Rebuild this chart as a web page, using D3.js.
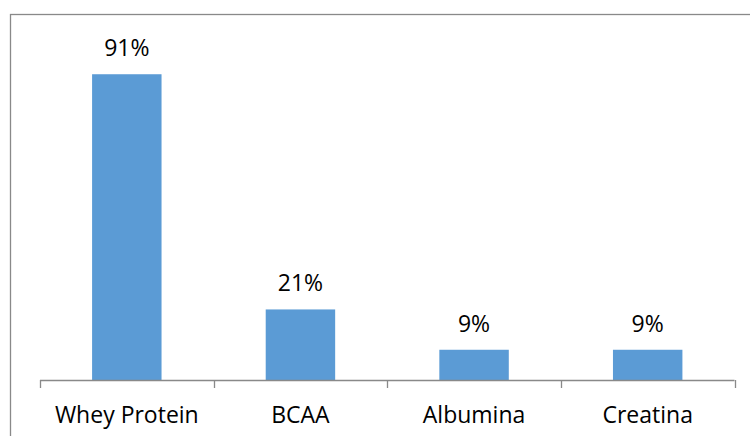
<!DOCTYPE html>
<html>
<head>
<meta charset="utf-8">
<script src="https://cdn.jsdelivr.net/npm/d3@7"></script>
<style>
  html, body { margin: 0; padding: 0; background: #fff; }
  svg { display: block; }
  text { font-family: "Open Sans", sans-serif; fill: #000; }
</style>
</head>
<body>
<svg id="chart" width="750" height="436"></svg>
<script>
// Share of each supplement
const categories = ["Whey Protein", "BCAA", "Albumina", "Creatina"];
const values = [0.91, 0.21, 0.09, 0.09];
const valueLabels = ["91%", "21%", "9%", "9%"];

const svg = d3.select("#chart");
const W = 750, H = 436;

// Chart frame (extends past the right and bottom edges)
svg.append("rect")
  .attr("x", 10.5).attr("y", 14.5)
  .attr("width", W).attr("height", H)
  .attr("fill", "none")
  .attr("stroke", "#898989")
  .attr("stroke-width", 1.3);

const x = d3.scaleBand()
  .domain(categories)
  .range([40, 734.5])
  .paddingInner(0.6)
  .paddingOuter(0.3);

const y = d3.scaleLinear()
  .domain([0, 1])
  .range([380, 44]);

// Bars
svg.append("g")
  .selectAll("rect")
  .data(categories)
  .join("rect")
  .attr("x", d => x(d))
  .attr("y", (d, i) => y(values[i]))
  .attr("width", x.bandwidth())
  .attr("height", (d, i) => y(0) - y(values[i]))
  .attr("fill", "#5B9BD5");

// Value labels
svg.append("g")
  .selectAll("text")
  .data(categories)
  .join("text")
  .attr("x", d => x(d) + x.bandwidth() / 2)
  .attr("y", (d, i) => y(values[i]) - 18)
  .attr("text-anchor", "middle")
  .attr("font-size", 23)
  .text((d, i) => valueLabels[i]);

// Category axis with ticks between categories
const step = x.step();
const edges = d3.range(categories.length + 1).map(i => 40 + i * (694.5 / categories.length));
const axis = svg.append("g").attr("stroke", "#898989").attr("stroke-width", 1.3);
axis.append("line")
  .attr("x1", 40).attr("x2", 734.5)
  .attr("y1", y(0) + 0.5).attr("y2", y(0) + 0.5);
axis.selectAll("line.tick")
  .data(edges)
  .join("line")
  .attr("class", "tick")
  .attr("x1", d => Math.round(d) + 0.5).attr("x2", d => Math.round(d) + 0.5)
  .attr("y1", y(0)).attr("y2", y(0) + 8);

svg.append("g")
  .selectAll("text")
  .data(categories)
  .join("text")
  .attr("x", d => x(d) + x.bandwidth() / 2)
  .attr("y", 423)
  .attr("text-anchor", "middle")
  .attr("font-size", 23)
  .text(d => d);
</script>
</body>
</html>
